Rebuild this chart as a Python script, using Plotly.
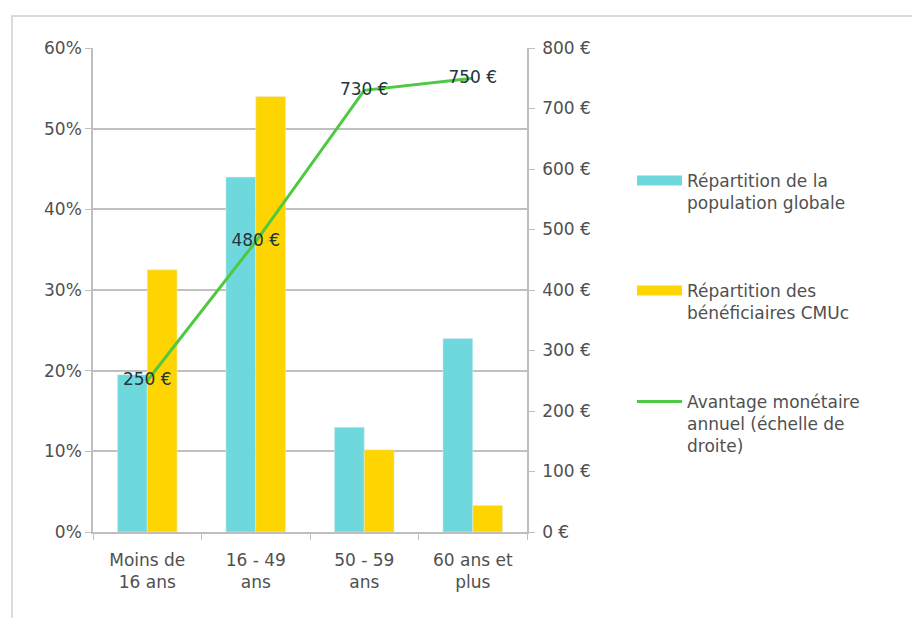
import plotly.graph_objects as go

categories = ["Moins de<br>16 ans", "16 - 49<br>ans", "50 - 59<br>ans", "60 ans et<br>plus"]
pop_globale = [0.195, 0.44, 0.13, 0.24]
benef_cmuc = [0.325, 0.54, 0.102, 0.033]
avantage = [250, 480, 730, 750]
avantage_labels = ["250 €", "480 €", "730 €", "750 €"]

name_pop = "Répartition de la<br>population globale"
name_cmu = "Répartition des<br>bénéficiaires CMUc"
name_av = "Avantage monétaire<br>annuel (échelle de<br>droite)"

CYAN = "#6fd8dc"
YELLOW = "#fed500"
GREEN = "#4fc842"
FONT = "DejaVu Sans"
TXT = "#505050"

# plot area in pixels
W, H = 912, 618
L, R, T, B = 93, 527, 48, 532
def px(x):
    return (x - L) / (R - L)
def py(y):
    return (B - y) / (B - T)

fig = go.Figure()
fig.add_trace(go.Bar(x=categories, y=pop_globale, marker_color=CYAN,
                     showlegend=False, name=name_pop))
fig.add_trace(go.Bar(x=categories, y=benef_cmuc, marker_color=YELLOW,
                     showlegend=False, name=name_cmu))
fig.add_trace(go.Scatter(x=categories, y=avantage, yaxis="y2", mode="lines+text",
                         line=dict(color=GREEN, width=3),
                         text=avantage_labels, textposition="middle center",
                         textfont=dict(family=FONT, size=17, color="#1f3540"),
                         showlegend=False, name=name_av))
# legend entries
fig.add_trace(go.Scatter(x=[None], y=[None], mode="lines", name=name_pop,
                         line=dict(color=CYAN, width=11), legend="legend"))
fig.add_trace(go.Scatter(x=[None], y=[None], mode="lines", name=name_cmu,
                         line=dict(color=YELLOW, width=11), legend="legend2"))
fig.add_trace(go.Scatter(x=[None], y=[None], mode="lines", name=name_av,
                         line=dict(color=GREEN, width=3), legend="legend3"))

leg_common = dict(xanchor="left", yanchor="top", valign="top",
                  font=dict(family=FONT, size=17, color=TXT),
                  bgcolor="rgba(0,0,0,0)", itemwidth=45)

fig.update_layout(
    width=W, height=H,
    margin=dict(l=L, r=W - R, t=T, b=H - B),
    paper_bgcolor="white", plot_bgcolor="white",
    barmode="group", bargap=0.45, bargroupgap=0,
    font=dict(family=FONT, size=17, color=TXT),
    xaxis=dict(showgrid=False, showline=True, linecolor="#bfbfbf", linewidth=1.5,
               ticks="outside", tickson="boundaries", ticklen=6, tickcolor="#bfbfbf",
               ticklabelstandoff=12,
               tickfont=dict(family=FONT, size=17, color=TXT)),
    yaxis=dict(range=[0, 0.6], dtick=0.1, tickformat=".0%", showgrid=True,
               gridcolor="#c0c0c0", gridwidth=1.5, zeroline=False,
               showline=True, linecolor="#bfbfbf", linewidth=1.5,
               ticks="outside", ticklen=6, tickcolor="#bfbfbf",
               tickfont=dict(family=FONT, size=17, color=TXT)),
    yaxis2=dict(range=[0, 800], dtick=100, ticksuffix=" €", overlaying="y", side="right",
                showgrid=False, zeroline=False, showline=True, linecolor="#bfbfbf",
                linewidth=1.5, ticks="outside", ticklen=6, tickcolor="#bfbfbf",
                ticklabelstandoff=4,
                tickfont=dict(family=FONT, size=17, color=TXT)),
    legend=dict(x=px(632), y=py(163), **leg_common),
    legend2=dict(x=px(632), y=py(273), **leg_common),
    legend3=dict(x=px(632), y=py(384), **leg_common),
    shapes=[dict(type="rect", xref="paper", yref="paper",
                 x0=px(12), x1=px(930), y0=py(640), y1=py(16),
                 line=dict(color="#d0d0d0", width=1.5), layer="below")],
)

fig.write_html("out.html")
